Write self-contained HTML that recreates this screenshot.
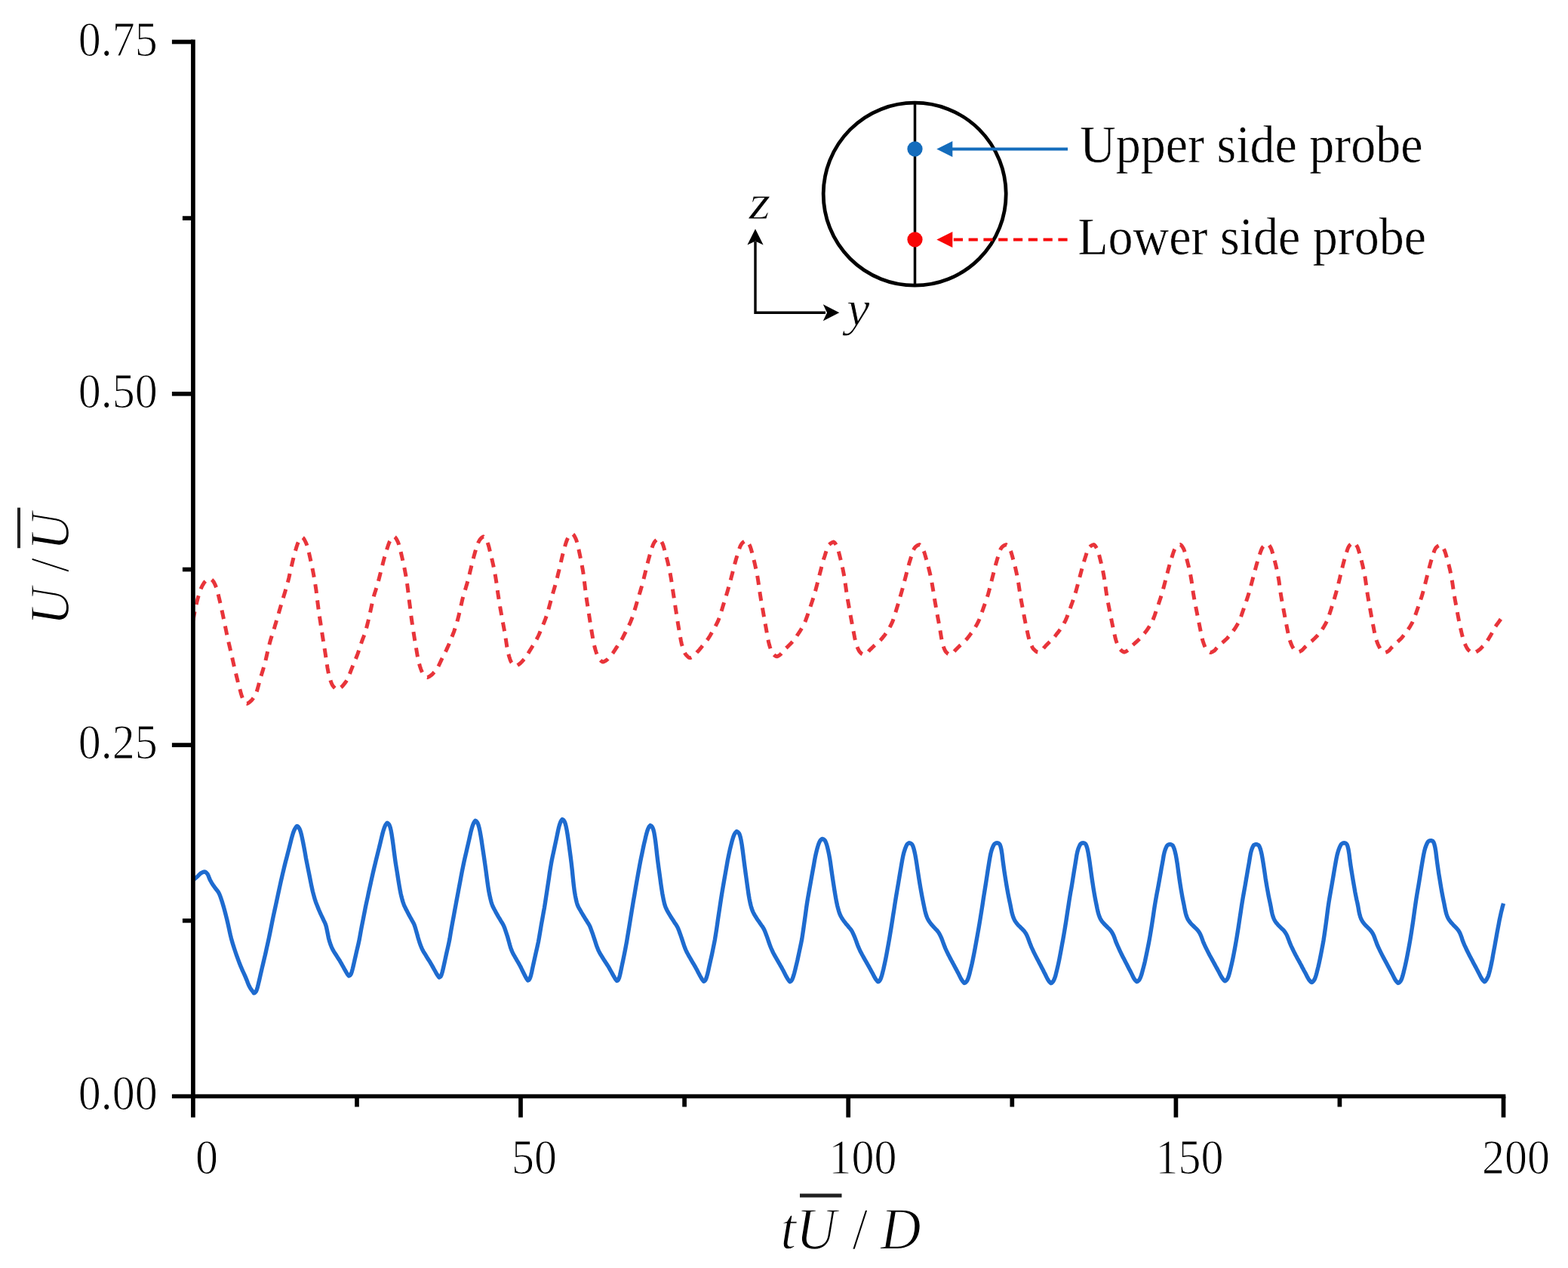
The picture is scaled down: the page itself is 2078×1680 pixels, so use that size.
<!DOCTYPE html>
<html lang="en">
<head>
<meta charset="utf-8">
<title>Velocity time histories at upper and lower side probes</title>
<style>
html,body{margin:0;padding:0;background:#fff;}
body{width:2078px;height:1680px;overflow:hidden;}
svg{display:block;}
</style>
</head>
<body>
<svg width="2078" height="1680" viewBox="0 0 2078 1680">
<rect width="2078" height="1680" fill="#ffffff"/>
<path d="M255.9 822.0L256.9 816.5L257.9 811.3L258.9 806.5L259.9 802.1L260.9 797.7L261.9 793.7L262.9 790.1L263.9 786.9L264.9 784.0L265.8 781.3L266.8 778.8L267.8 776.6L268.8 774.8L269.8 773.2L270.8 771.7L271.8 770.4L272.8 769.4L273.8 768.6L274.8 768.1L275.8 767.6L276.8 767.2L277.8 767.0L278.8 767.1L279.8 767.5L280.8 768.3L281.8 769.3L282.8 770.4L283.7 771.9L284.7 773.9L285.7 776.1L286.7 778.6L287.7 781.7L288.7 785.5L289.7 789.6L290.7 793.8L291.7 798.0L292.7 802.4L293.7 807.0L294.7 811.8L295.7 816.5L296.7 821.2L297.7 826.0L298.7 830.9L299.7 835.7L300.6 840.4L301.6 844.9L302.6 849.3L303.6 853.6L304.6 857.9L305.6 862.2L306.6 866.5L307.6 870.9L308.6 875.3L309.6 879.7L310.6 884.0L311.6 888.3L312.6 892.4L313.6 896.6L314.6 900.7L315.6 904.8L316.6 908.6L317.6 912.2L318.6 915.8L319.5 919.3L320.5 922.5L321.5 925.1L322.5 926.9L323.5 928.5L324.5 930.0L325.5 931.2L326.5 932.0L327.5 932.3L328.5 931.8L329.5 931.2L330.5 930.5L331.5 929.6L332.5 928.7L333.5 927.7L334.5 926.6L335.5 925.3L336.5 923.8L337.5 922.2L338.5 920.3L339.5 918.1L340.5 915.5L341.5 912.0L342.5 908.4L343.5 904.4L344.5 900.7L345.5 897.2L346.6 893.8L347.6 890.5L348.6 887.2L349.6 883.8L350.6 880.3L351.6 876.5L352.6 872.3L353.6 867.9L354.6 863.4L355.6 859.0L356.6 855.0L357.6 851.3L358.6 847.8L359.6 844.5L360.6 841.3L361.6 838.2L362.6 835.1L363.6 831.9L364.6 828.6L365.6 825.2L366.6 821.8L367.6 818.3L368.6 814.9L369.6 811.5L370.6 808.0L371.6 804.6L372.6 801.1L373.6 797.8L374.6 794.5L375.6 791.3L376.6 788.1L377.6 784.8L378.6 781.4L379.6 778.1L380.6 774.6L381.6 770.7L382.7 766.4L383.7 761.9L384.7 757.3L385.7 752.9L386.7 748.6L387.7 744.3L388.7 740.1L389.7 736.1L390.7 732.4L391.7 729.0L392.7 725.6L393.7 722.5L394.7 719.7L395.7 717.5L396.7 715.8L397.7 714.4L398.7 713.2L399.7 712.4L400.7 711.8L401.7 712.6L402.7 713.9L403.7 715.5L404.7 717.5L405.7 719.6L406.8 722.4L407.8 725.8L408.8 729.7L409.8 734.0L410.8 738.4L411.8 742.9L412.8 747.4L413.8 752.1L414.8 757.1L415.8 762.4L416.8 768.0L417.8 774.1L418.9 781.3L419.9 789.5L420.9 797.9L421.9 805.8L422.9 812.9L423.9 819.6L424.9 826.2L425.9 832.7L426.9 839.2L427.9 845.7L428.9 852.1L430.0 858.5L431.0 864.9L432.0 871.5L433.0 878.3L434.0 884.9L435.0 890.4L436.0 894.6L437.0 898.2L438.0 901.6L439.0 904.4L440.0 906.8L441.0 908.5L442.1 909.8L443.1 911.0L444.1 912.0L445.1 912.9L446.1 913.4L447.1 913.6L448.1 913.2L449.1 912.7L450.1 912.0L451.1 911.3L452.1 910.5L453.1 909.7L454.1 908.7L455.0 907.6L456.0 906.4L457.0 905.2L458.0 903.8L459.0 902.3L460.0 900.7L461.0 898.8L462.0 896.5L463.0 893.9L464.0 891.3L465.0 888.6L466.0 886.1L467.0 883.6L468.0 881.2L469.0 878.8L469.9 876.5L470.9 874.1L471.9 871.7L472.9 869.2L473.9 866.6L474.9 863.8L475.9 860.8L476.9 857.8L477.9 854.7L478.9 851.7L479.9 848.8L480.9 846.1L481.9 843.6L482.9 840.9L483.9 838.0L484.9 834.8L485.8 831.3L486.8 827.5L487.8 823.5L488.8 819.2L489.8 814.8L490.8 810.3L491.8 805.7L492.8 801.0L493.8 796.4L494.8 792.2L495.8 788.5L496.8 785.2L497.8 782.2L498.8 779.1L499.8 775.9L500.7 772.6L501.7 769.0L502.7 765.2L503.7 761.2L504.7 757.2L505.7 753.1L506.7 749.2L507.7 745.4L508.7 741.5L509.7 737.8L510.7 734.3L511.7 730.9L512.7 727.7L513.7 724.7L514.7 721.8L515.6 719.3L516.6 717.1L517.6 715.4L518.6 714.1L519.6 713.0L520.6 712.0L521.6 711.4L522.6 710.9L523.6 711.7L524.6 713.0L525.6 714.6L526.6 716.5L527.6 718.6L528.6 721.5L529.6 725.0L530.6 728.9L531.6 733.1L532.6 737.5L533.6 741.8L534.6 746.2L535.6 750.9L536.6 755.9L537.6 761.2L538.6 767.1L539.6 773.7L540.6 781.5L541.6 789.8L542.6 797.9L543.6 805.6L544.5 813.3L545.5 820.8L546.5 827.8L547.5 834.4L548.5 840.7L549.5 846.8L550.5 852.7L551.5 858.7L552.5 864.7L553.5 870.4L554.5 875.4L555.5 879.2L556.5 882.7L557.5 885.8L558.5 888.5L559.5 890.8L560.5 892.5L561.5 893.8L562.5 894.9L563.5 896.0L564.5 896.8L565.5 897.3L566.5 897.5L567.5 897.1L568.5 896.6L569.5 896.0L570.5 895.3L571.5 894.5L572.5 893.7L573.5 892.7L574.5 891.6L575.5 890.5L576.6 889.3L577.6 888.0L578.6 886.7L579.6 885.2L580.6 883.5L581.6 881.5L582.6 879.4L583.6 877.3L584.6 875.1L585.6 873.0L586.6 871.0L587.6 869.0L588.6 867.0L589.6 865.1L590.6 863.1L591.6 861.1L592.6 858.9L593.6 856.7L594.7 854.3L595.7 851.8L596.7 849.3L597.7 846.7L598.7 844.3L599.7 841.8L600.7 839.3L601.7 836.6L602.7 833.6L603.7 830.6L604.7 827.5L605.7 824.2L606.7 820.5L607.7 816.6L608.7 812.4L609.7 808.1L610.7 803.6L611.7 799.1L612.7 794.6L613.8 790.5L614.8 787.0L615.8 783.6L616.8 780.4L617.8 777.1L618.8 773.7L619.8 770.1L620.8 766.3L621.8 762.2L622.8 758.1L623.8 754.0L624.8 749.9L625.8 745.8L626.8 741.9L627.8 738.0L628.8 734.3L629.8 730.8L630.8 727.5L631.9 724.3L632.9 721.3L633.9 718.8L634.9 716.7L635.9 715.1L636.9 713.9L637.9 712.8L638.9 712.0L639.9 711.3L640.9 710.9L641.9 711.7L642.9 712.9L643.9 714.4L644.9 716.2L645.9 718.3L646.9 721.1L647.9 724.4L648.8 728.2L649.8 732.2L650.8 736.3L651.8 740.4L652.8 744.7L653.8 749.2L654.8 754.1L655.8 759.3L656.8 764.8L657.8 771.2L658.8 778.4L659.8 785.6L660.8 792.2L661.8 798.2L662.7 804.0L663.7 809.6L664.7 815.2L665.7 820.7L666.7 826.1L667.7 831.4L668.7 836.9L669.7 842.6L670.7 849.3L671.7 856.1L672.7 862.1L673.7 866.2L674.7 869.7L675.7 872.8L676.6 875.3L677.6 877.3L678.6 878.6L679.6 879.7L680.6 880.8L681.6 881.6L682.6 882.1L683.6 882.3L684.6 881.9L685.6 881.5L686.6 880.9L687.6 880.3L688.6 879.5L689.6 878.7L690.6 877.7L691.6 876.7L692.6 875.6L693.6 874.5L694.6 873.4L695.6 872.3L696.6 871.0L697.6 869.6L698.6 868.1L699.6 866.4L700.6 864.6L701.6 862.9L702.7 861.2L703.7 859.5L704.7 857.9L705.7 856.3L706.7 854.7L707.7 853.1L708.7 851.4L709.7 849.7L710.7 847.9L711.7 846.0L712.7 844.0L713.7 842.0L714.7 839.8L715.7 837.3L716.7 834.8L717.7 832.4L718.7 830.1L719.7 827.8L720.7 825.5L721.7 823.0L722.7 820.4L723.7 817.6L724.7 814.7L725.7 811.5L726.7 808.0L727.7 804.4L728.7 800.7L729.7 797.0L730.7 793.3L731.7 789.7L732.7 786.1L733.7 782.6L734.7 779.2L735.7 775.7L736.7 772.1L737.7 768.4L738.7 764.4L739.7 760.1L740.8 755.8L741.8 751.4L742.8 747.1L743.8 742.8L744.8 738.5L745.8 734.4L746.8 730.6L747.8 726.9L748.8 723.4L749.8 720.1L750.8 717.0L751.8 714.5L752.8 712.5L753.8 711.0L754.8 709.9L755.8 709.0L756.8 708.2L757.8 707.7L758.8 707.3L759.8 708.1L760.8 709.5L761.8 711.2L762.8 713.3L763.9 715.9L764.9 719.4L765.9 723.5L766.9 727.9L767.9 732.6L768.9 737.2L769.9 742.1L770.9 747.4L772.0 753.2L773.0 759.4L774.0 766.7L775.0 775.1L776.0 783.5L777.0 790.9L778.0 797.8L779.0 804.4L780.1 811.0L781.1 817.6L782.1 824.2L783.1 830.6L784.1 836.5L785.1 842.3L786.1 848.0L787.1 853.3L788.2 857.8L789.2 861.3L790.2 864.5L791.2 867.3L792.2 869.8L793.2 871.7L794.2 873.1L795.2 874.3L796.3 875.4L797.3 876.2L798.3 876.8L799.3 877.0L800.3 876.6L801.3 876.2L802.3 875.6L803.3 874.9L804.3 874.2L805.3 873.2L806.3 872.1L807.3 871.0L808.3 869.9L809.3 868.8L810.3 867.7L811.3 866.5L812.3 865.2L813.3 863.7L814.3 862.2L815.3 860.6L816.3 859.0L817.3 857.5L818.3 856.1L819.3 854.6L820.3 853.1L821.3 851.6L822.3 850.1L823.3 848.5L824.3 846.7L825.3 844.8L826.3 842.9L827.3 840.9L828.3 838.9L829.3 836.9L830.3 835.0L831.3 833.0L832.3 831.1L833.3 829.0L834.3 826.9L835.3 824.7L836.3 822.3L837.3 819.8L838.3 817.1L839.3 814.0L840.3 810.9L841.3 807.5L842.3 804.2L843.3 800.8L844.3 797.4L845.3 794.1L846.3 790.8L847.3 787.4L848.3 784.2L849.3 780.8L850.3 777.4L851.3 773.7L852.3 769.9L853.3 766.0L854.3 761.9L855.3 757.9L856.3 753.9L857.3 749.9L858.3 745.9L859.3 742.0L860.3 738.3L861.3 734.8L862.3 731.5L863.3 728.1L864.3 725.0L865.3 722.2L866.3 719.9L867.3 718.2L868.3 716.9L869.3 715.9L870.3 715.1L871.3 714.5L872.3 714.0L873.3 713.6L874.3 714.3L875.3 715.5L876.3 717.0L877.3 718.8L878.3 720.9L879.3 723.7L880.3 727.1L881.3 730.8L882.3 734.7L883.3 738.6L884.4 742.6L885.4 746.8L886.4 751.3L887.4 756.1L888.4 761.2L889.4 766.9L890.4 773.3L891.4 780.1L892.4 786.9L893.4 793.4L894.4 799.9L895.4 806.4L896.4 812.8L897.4 819.3L898.4 825.6L899.4 831.6L900.4 837.4L901.4 843.3L902.4 848.8L903.4 853.4L904.5 856.9L905.5 860.0L906.5 862.7L907.5 865.0L908.5 866.8L909.5 868.1L910.5 869.1L911.5 870.1L912.5 870.9L913.5 871.4L914.5 871.6L915.5 871.3L916.5 870.8L917.5 870.2L918.5 869.6L919.5 868.8L920.5 867.8L921.5 866.6L922.6 865.5L923.6 864.3L924.6 863.3L925.6 862.2L926.6 861.1L927.6 859.9L928.6 858.7L929.6 857.4L930.6 856.1L931.6 854.9L932.6 853.7L933.6 852.5L934.6 851.3L935.6 850.0L936.6 848.7L937.7 847.3L938.7 845.9L939.7 844.3L940.7 842.7L941.7 841.0L942.7 839.3L943.7 837.6L944.7 836.0L945.7 834.3L946.7 832.5L947.7 830.7L948.7 828.7L949.7 826.7L950.7 824.6L951.8 822.3L952.8 819.7L953.8 816.9L954.8 813.8L955.8 810.6L956.8 807.4L957.8 804.1L958.8 800.8L959.8 797.6L960.8 794.3L961.8 790.9L962.8 787.7L963.8 784.4L964.8 781.0L965.8 777.4L966.9 773.7L967.9 769.9L968.9 766.0L969.9 762.1L970.9 758.3L971.9 754.4L972.9 750.5L973.9 746.7L974.9 743.0L975.9 739.4L976.9 736.2L977.9 732.9L978.9 729.7L979.9 726.7L980.9 724.0L982.0 721.9L983.0 720.4L984.0 719.2L985.0 718.3L986.0 717.6L987.0 717.0L988.0 716.6L989.0 716.2L990.0 717.0L991.0 718.2L992.0 719.8L993.0 721.5L994.1 723.8L995.1 726.7L996.1 730.2L997.1 734.1L998.1 738.1L999.1 742.0L1000.1 746.2L1001.1 750.6L1002.2 755.3L1003.2 760.4L1004.2 766.0L1005.2 772.6L1006.2 779.6L1007.2 786.5L1008.2 792.8L1009.2 798.7L1010.3 804.6L1011.3 810.3L1012.3 816.1L1013.3 821.7L1014.3 827.3L1015.3 832.8L1016.3 838.5L1017.4 844.4L1018.4 849.8L1019.4 854.0L1020.4 857.3L1021.4 860.2L1022.4 862.8L1023.4 864.8L1024.4 866.2L1025.5 867.3L1026.5 868.3L1027.5 869.1L1028.5 869.6L1029.5 869.8L1030.5 869.5L1031.5 869.0L1032.5 868.4L1033.5 867.7L1034.5 866.9L1035.5 865.7L1036.5 864.4L1037.5 863.2L1038.5 862.0L1039.5 861.0L1040.5 860.0L1041.5 858.9L1042.6 857.9L1043.6 856.9L1044.6 855.9L1045.6 854.9L1046.6 854.0L1047.6 853.0L1048.6 852.0L1049.6 850.9L1050.6 849.8L1051.6 848.7L1052.6 847.4L1053.6 846.1L1054.6 844.7L1055.6 843.2L1056.6 841.6L1057.6 840.1L1058.6 838.6L1059.6 837.1L1060.6 835.6L1061.6 833.9L1062.6 832.2L1063.6 830.5L1064.6 828.6L1065.6 826.6L1066.6 824.4L1067.7 821.9L1068.7 819.2L1069.7 816.4L1070.7 813.5L1071.7 810.5L1072.7 807.6L1073.7 804.7L1074.7 801.7L1075.7 798.8L1076.7 795.7L1077.7 792.6L1078.7 789.4L1079.7 786.0L1080.7 782.5L1081.7 778.7L1082.7 774.9L1083.7 770.9L1084.7 767.0L1085.7 763.1L1086.7 759.2L1087.7 755.3L1088.7 751.4L1089.7 747.6L1090.7 743.9L1091.7 740.4L1092.8 737.2L1093.8 733.9L1094.8 730.7L1095.8 727.7L1096.8 725.0L1097.8 723.1L1098.8 721.7L1099.8 720.7L1100.8 719.9L1101.8 719.3L1102.8 718.7L1103.8 718.3L1104.8 718.0L1105.8 718.7L1106.8 719.9L1107.8 721.4L1108.8 723.2L1109.8 725.5L1110.8 728.5L1111.7 732.1L1112.7 735.9L1113.7 740.0L1114.7 744.0L1115.7 748.2L1116.7 752.8L1117.7 757.7L1118.7 763.1L1119.7 769.2L1120.7 776.4L1121.7 783.7L1122.7 790.2L1123.7 796.0L1124.7 801.6L1125.6 807.0L1126.6 812.5L1127.6 817.9L1128.6 823.3L1129.6 828.5L1130.6 833.7L1131.6 839.1L1132.6 844.4L1133.6 849.1L1134.6 852.7L1135.6 855.7L1136.6 858.4L1137.6 860.7L1138.5 862.5L1139.5 863.8L1140.5 864.9L1141.5 865.8L1142.5 866.6L1143.5 867.1L1144.5 867.3L1145.5 867.0L1146.5 866.6L1147.5 866.0L1148.5 865.4L1149.5 864.6L1150.5 863.7L1151.5 862.5L1152.5 861.4L1153.5 860.3L1154.5 859.4L1155.5 858.4L1156.5 857.5L1157.5 856.6L1158.5 855.6L1159.5 854.7L1160.5 853.9L1161.5 853.0L1162.5 852.1L1163.5 851.2L1164.5 850.3L1165.5 849.4L1166.5 848.4L1167.5 847.4L1168.5 846.3L1169.5 845.1L1170.5 843.9L1171.5 842.7L1172.5 841.4L1173.5 840.0L1174.5 838.6L1175.5 837.2L1176.5 835.6L1177.5 834.0L1178.5 832.3L1179.5 830.4L1180.5 828.5L1181.5 826.4L1182.6 824.1L1183.6 821.5L1184.6 818.5L1185.6 815.3L1186.6 812.1L1187.6 808.8L1188.6 805.5L1189.6 802.3L1190.6 799.0L1191.6 795.6L1192.6 792.1L1193.6 788.6L1194.6 785.1L1195.6 781.6L1196.6 777.9L1197.6 774.0L1198.6 770.1L1199.6 766.3L1200.6 762.5L1201.6 758.7L1202.6 754.8L1203.6 751.0L1204.6 747.4L1205.6 743.9L1206.6 740.7L1207.6 737.5L1208.6 734.3L1209.6 731.3L1210.6 728.6L1211.6 726.7L1212.6 725.3L1213.6 724.3L1214.6 723.5L1215.6 722.8L1216.6 722.3L1217.6 721.9L1218.6 721.6L1219.6 722.3L1220.6 723.4L1221.6 724.8L1222.6 726.5L1223.6 728.5L1224.6 731.0L1225.6 734.1L1226.6 737.5L1227.6 741.1L1228.6 744.6L1229.6 748.2L1230.6 752.1L1231.6 756.1L1232.6 760.4L1233.6 765.0L1234.6 770.0L1235.6 775.6L1236.6 781.6L1237.6 787.7L1238.5 793.5L1239.5 799.3L1240.5 805.1L1241.5 810.8L1242.5 816.3L1243.5 821.6L1244.5 827.0L1245.5 832.5L1246.5 838.5L1247.5 844.8L1248.5 850.1L1249.5 853.9L1250.5 857.1L1251.5 859.9L1252.5 862.0L1253.5 863.5L1254.5 864.6L1255.5 865.6L1256.5 866.4L1257.5 866.9L1258.5 867.1L1259.5 866.8L1260.5 866.3L1261.5 865.8L1262.5 865.1L1263.5 864.3L1264.5 863.3L1265.5 862.1L1266.5 860.9L1267.5 859.9L1268.5 858.9L1269.5 857.9L1270.5 857.0L1271.5 856.0L1272.5 855.0L1273.5 854.1L1274.5 853.2L1275.5 852.3L1276.5 851.4L1277.5 850.4L1278.5 849.5L1279.5 848.5L1280.5 847.4L1281.5 846.3L1282.5 845.1L1283.5 843.8L1284.5 842.5L1285.5 841.1L1286.5 839.7L1287.5 838.4L1288.5 837.1L1289.5 835.7L1290.5 834.2L1291.5 832.6L1292.5 831.0L1293.5 829.3L1294.5 827.5L1295.5 825.6L1296.6 823.5L1297.6 821.1L1298.6 818.5L1299.6 815.9L1300.6 813.1L1301.6 810.3L1302.6 807.5L1303.6 804.7L1304.6 801.9L1305.6 799.1L1306.6 796.2L1307.6 793.3L1308.6 790.2L1309.6 786.9L1310.6 783.3L1311.6 779.5L1312.6 775.5L1313.6 771.5L1314.6 767.5L1315.6 763.5L1316.6 759.6L1317.6 755.6L1318.6 751.7L1319.6 747.9L1320.6 744.3L1321.6 740.9L1322.6 737.7L1323.6 734.3L1324.6 731.3L1325.6 728.6L1326.6 726.7L1327.6 725.2L1328.6 724.2L1329.6 723.4L1330.6 722.8L1331.6 722.3L1332.6 721.9L1333.6 721.6L1334.6 722.2L1335.6 723.3L1336.6 724.7L1337.6 726.3L1338.6 728.2L1339.7 730.8L1340.7 734.0L1341.7 737.5L1342.7 741.2L1343.7 744.8L1344.7 748.6L1345.7 752.7L1346.7 757.1L1347.7 761.8L1348.7 767.0L1349.8 773.1L1350.8 779.9L1351.8 786.5L1352.8 792.4L1353.8 798.0L1354.8 803.3L1355.8 808.6L1356.8 813.9L1357.8 819.2L1358.8 824.4L1359.8 829.3L1360.9 834.1L1361.9 838.9L1362.9 843.4L1363.9 847.3L1364.9 850.3L1365.9 852.8L1366.9 855.2L1367.9 857.2L1368.9 858.9L1369.9 860.2L1371.0 861.2L1372.0 862.1L1373.0 863.0L1374.0 863.6L1375.0 864.0L1376.0 864.2L1377.0 863.9L1378.0 863.4L1379.0 862.8L1380.0 862.2L1381.0 861.3L1382.0 860.1L1383.0 858.9L1384.0 857.7L1385.0 856.6L1385.9 855.6L1386.9 854.6L1387.9 853.5L1388.9 852.5L1389.9 851.6L1390.9 850.6L1391.9 849.6L1392.9 848.7L1393.9 847.7L1394.9 846.7L1395.9 845.6L1396.9 844.5L1397.9 843.3L1398.9 842.0L1399.9 840.6L1400.9 839.3L1401.9 838.1L1402.9 836.9L1403.8 835.6L1404.8 834.2L1405.8 832.8L1406.8 831.3L1407.8 829.7L1408.8 828.1L1409.8 826.4L1410.8 824.5L1411.8 822.6L1412.8 820.4L1413.8 818.0L1414.8 815.4L1415.8 812.7L1416.8 810.0L1417.8 807.2L1418.8 804.5L1419.8 801.7L1420.8 799.0L1421.8 796.2L1422.7 793.3L1423.7 790.4L1424.7 787.2L1425.7 783.9L1426.7 780.4L1427.7 776.7L1428.7 773.0L1429.7 769.2L1430.7 765.4L1431.7 761.7L1432.7 757.9L1433.7 754.1L1434.7 750.4L1435.7 746.8L1436.7 743.4L1437.7 740.3L1438.7 737.2L1439.7 734.0L1440.6 731.1L1441.6 728.5L1442.6 726.6L1443.6 725.2L1444.6 724.2L1445.6 723.4L1446.6 722.8L1447.6 722.3L1448.6 721.9L1449.6 721.6L1450.6 722.3L1451.6 723.4L1452.6 725.0L1453.6 726.7L1454.6 729.0L1455.7 732.1L1456.7 735.7L1457.7 739.6L1458.7 743.6L1459.7 747.7L1460.7 752.1L1461.7 756.8L1462.7 762.0L1463.7 767.8L1464.8 775.1L1465.8 782.8L1466.8 789.5L1467.8 795.2L1468.8 800.4L1469.8 805.4L1470.8 810.5L1471.8 815.6L1472.8 820.6L1473.8 825.5L1474.8 830.3L1475.9 835.1L1476.9 840.0L1477.9 844.5L1478.9 848.2L1479.9 851.1L1480.9 853.7L1481.9 856.1L1482.9 858.1L1483.9 859.6L1485.0 860.8L1486.0 861.8L1487.0 862.6L1488.0 863.3L1489.0 863.8L1490.0 864.0L1491.0 863.7L1492.0 863.3L1493.0 862.7L1494.0 862.0L1495.0 861.3L1496.0 860.2L1497.0 859.0L1498.0 857.9L1499.0 856.9L1500.0 855.9L1501.0 854.9L1502.0 854.0L1503.1 853.0L1504.1 852.1L1505.1 851.2L1506.1 850.3L1507.1 849.4L1508.1 848.5L1509.1 847.6L1510.1 846.6L1511.1 845.6L1512.1 844.6L1513.1 843.5L1514.1 842.3L1515.1 841.1L1516.1 839.8L1517.1 838.6L1518.1 837.3L1519.1 836.0L1520.1 834.6L1521.1 833.2L1522.1 831.7L1523.1 830.1L1524.1 828.4L1525.1 826.7L1526.1 824.8L1527.2 822.8L1528.2 820.5L1529.2 818.0L1530.2 815.3L1531.2 812.4L1532.2 809.5L1533.2 806.6L1534.2 803.7L1535.2 800.8L1536.2 797.8L1537.2 794.8L1538.2 791.7L1539.2 788.5L1540.2 785.2L1541.2 781.7L1542.2 778.0L1543.2 774.2L1544.2 770.3L1545.2 766.4L1546.2 762.6L1547.2 758.8L1548.2 754.9L1549.2 751.1L1550.2 747.4L1551.2 743.9L1552.3 740.6L1553.3 737.5L1554.3 734.2L1555.3 731.3L1556.3 728.6L1557.3 726.6L1558.3 725.2L1559.3 724.2L1560.3 723.4L1561.3 722.8L1562.3 722.3L1563.3 721.9L1564.3 721.6L1565.3 722.3L1566.3 723.4L1567.3 724.9L1568.3 726.6L1569.3 728.8L1570.3 731.8L1571.3 735.2L1572.3 739.0L1573.3 742.9L1574.3 746.8L1575.4 750.9L1576.4 755.4L1577.4 760.2L1578.4 765.5L1579.4 771.7L1580.4 778.9L1581.4 785.9L1582.4 791.9L1583.4 797.3L1584.4 802.5L1585.4 807.5L1586.4 812.6L1587.4 817.7L1588.4 822.7L1589.4 827.6L1590.4 832.5L1591.4 837.6L1592.4 842.7L1593.4 847.1L1594.5 850.5L1595.5 853.4L1596.5 856.0L1597.5 858.2L1598.5 859.9L1599.5 861.2L1600.5 862.2L1601.5 863.1L1602.5 863.8L1603.5 864.3L1604.5 864.5L1605.5 864.2L1606.5 863.8L1607.5 863.2L1608.5 862.6L1609.5 861.9L1610.5 860.9L1611.5 859.7L1612.4 858.6L1613.4 857.5L1614.4 856.6L1615.4 855.6L1616.4 854.7L1617.4 853.8L1618.4 852.9L1619.4 851.9L1620.4 851.1L1621.4 850.2L1622.4 849.3L1623.4 848.4L1624.4 847.5L1625.4 846.5L1626.4 845.6L1627.3 844.5L1628.3 843.4L1629.3 842.2L1630.3 841.0L1631.3 839.7L1632.3 838.5L1633.3 837.3L1634.3 835.9L1635.3 834.6L1636.3 833.1L1637.3 831.6L1638.3 830.0L1639.3 828.4L1640.3 826.6L1641.3 824.8L1642.2 822.8L1643.2 820.5L1644.2 818.0L1645.2 815.3L1646.2 812.4L1647.2 809.5L1648.2 806.6L1649.2 803.7L1650.2 800.8L1651.2 797.9L1652.2 794.9L1653.2 791.9L1654.2 788.7L1655.2 785.4L1656.2 782.1L1657.2 778.5L1658.1 774.8L1659.1 771.1L1660.1 767.3L1661.1 763.5L1662.1 759.8L1663.1 756.1L1664.1 752.3L1665.1 748.7L1666.1 745.2L1667.1 741.9L1668.1 738.8L1669.1 735.6L1670.1 732.5L1671.1 729.7L1672.1 727.2L1673.0 725.5L1674.0 724.2L1675.0 723.2L1676.0 722.5L1677.0 721.9L1678.0 721.4L1679.0 721.0L1680.0 720.7L1681.0 721.3L1682.0 722.5L1683.0 723.9L1684.0 725.6L1685.0 727.7L1685.9 730.5L1686.9 733.9L1687.9 737.6L1688.9 741.4L1689.9 745.3L1690.9 749.3L1691.9 753.7L1692.9 758.4L1693.9 763.6L1694.9 769.4L1695.8 776.4L1696.8 783.6L1697.8 789.9L1698.8 795.6L1699.8 801.1L1700.8 806.4L1701.8 811.8L1702.8 817.1L1703.8 822.4L1704.8 827.4L1705.7 832.3L1706.7 837.2L1707.7 841.9L1708.7 846.1L1709.7 849.4L1710.7 852.0L1711.7 854.5L1712.7 856.6L1713.7 858.4L1714.7 859.9L1715.6 860.9L1716.6 861.8L1717.6 862.7L1718.6 863.4L1719.6 863.8L1720.6 864.0L1721.6 863.7L1722.6 863.3L1723.6 862.7L1724.6 862.1L1725.6 861.4L1726.6 860.5L1727.6 859.3L1728.6 858.3L1729.6 857.2L1730.6 856.3L1731.6 855.4L1732.6 854.5L1733.6 853.6L1734.6 852.6L1735.6 851.8L1736.6 850.9L1737.6 850.0L1738.6 849.2L1739.5 848.3L1740.5 847.4L1741.5 846.5L1742.5 845.6L1743.5 844.6L1744.5 843.6L1745.5 842.5L1746.5 841.4L1747.5 840.2L1748.5 839.0L1749.5 837.7L1750.5 836.4L1751.5 835.0L1752.5 833.5L1753.5 831.9L1754.5 830.3L1755.5 828.6L1756.5 826.8L1757.5 824.9L1758.5 822.8L1759.5 820.5L1760.5 817.8L1761.5 814.9L1762.5 811.8L1763.5 808.7L1764.5 805.5L1765.5 802.3L1766.5 799.2L1767.5 796.0L1768.5 792.7L1769.5 789.3L1770.5 785.8L1771.5 782.2L1772.5 778.5L1773.5 774.5L1774.5 770.4L1775.5 766.3L1776.4 762.2L1777.4 758.2L1778.4 754.1L1779.4 750.0L1780.4 746.1L1781.4 742.4L1782.4 738.9L1783.4 735.6L1784.4 732.2L1785.4 729.0L1786.4 726.2L1787.4 724.1L1788.4 722.7L1789.4 721.6L1790.4 720.8L1791.4 720.1L1792.4 719.6L1793.4 719.2L1794.4 718.9L1795.4 719.5L1796.4 720.6L1797.4 722.1L1798.4 723.7L1799.4 725.7L1800.3 728.4L1801.3 731.7L1802.3 735.3L1803.3 739.1L1804.3 742.9L1805.3 746.9L1806.3 751.1L1807.3 755.7L1808.3 760.6L1809.3 766.1L1810.2 772.6L1811.2 779.8L1812.2 786.5L1813.2 792.5L1814.2 798.3L1815.2 803.8L1816.2 809.4L1817.2 815.0L1818.2 820.5L1819.2 825.8L1820.2 830.8L1821.1 835.6L1822.1 840.4L1823.1 844.7L1824.1 848.2L1825.1 851.0L1826.1 853.5L1827.1 855.7L1828.1 857.6L1829.1 859.3L1830.1 860.5L1831.0 861.5L1832.0 862.4L1833.0 863.2L1834.0 863.9L1835.0 864.3L1836.0 864.5L1837.0 864.2L1838.0 863.7L1839.0 863.2L1840.0 862.5L1841.0 861.7L1842.0 860.6L1843.0 859.4L1844.0 858.2L1845.0 857.2L1846.0 856.2L1847.0 855.2L1848.0 854.3L1849.0 853.3L1850.0 852.3L1851.0 851.4L1852.0 850.5L1853.0 849.6L1854.0 848.6L1855.0 847.7L1856.0 846.7L1857.0 845.7L1858.0 844.6L1859.0 843.4L1860.0 842.1L1861.0 840.8L1862.0 839.5L1863.0 838.3L1864.0 837.0L1865.0 835.6L1866.0 834.2L1867.0 832.7L1868.0 831.2L1869.0 829.5L1870.0 827.8L1871.0 826.0L1872.0 824.1L1873.0 821.9L1874.0 819.5L1875.0 816.9L1876.0 814.1L1877.0 811.2L1878.0 808.4L1879.0 805.5L1880.0 802.6L1881.0 799.7L1882.0 796.8L1883.0 793.8L1884.0 790.7L1885.0 787.4L1886.0 783.9L1887.0 780.2L1888.0 776.3L1889.0 772.4L1890.0 768.4L1891.0 764.4L1892.0 760.5L1893.0 756.6L1894.0 752.6L1895.0 748.8L1896.0 745.1L1897.0 741.8L1898.0 738.5L1899.0 735.2L1900.0 732.1L1901.0 729.3L1902.0 727.2L1903.0 725.8L1904.0 724.7L1905.0 723.9L1906.0 723.2L1907.0 722.7L1908.0 722.3L1909.0 722.0L1910.0 722.6L1911.0 723.6L1912.0 724.9L1913.0 726.5L1913.9 728.3L1914.9 730.8L1915.9 733.8L1916.9 737.2L1917.9 740.8L1918.9 744.5L1919.9 748.2L1920.9 752.2L1921.9 756.4L1922.8 761.1L1923.8 766.1L1924.8 772.1L1925.8 779.0L1926.8 785.9L1927.8 791.9L1928.8 797.4L1929.8 802.7L1930.8 807.9L1931.7 813.1L1932.7 818.4L1933.7 823.6L1934.7 828.4L1935.7 832.9L1936.7 837.3L1937.7 841.5L1938.7 845.3L1939.6 848.7L1940.6 851.3L1941.6 853.6L1942.6 855.8L1943.6 857.7L1944.6 859.4L1945.6 860.8L1946.6 861.8L1947.6 862.7L1948.5 863.5L1949.5 864.3L1950.5 864.8L1951.5 865.2L1952.5 865.4L1953.5 865.0L1954.5 864.6L1955.6 864.1L1956.6 863.5L1957.6 862.9L1958.6 862.3L1959.6 861.5L1960.7 860.7L1961.7 859.8L1962.7 858.9L1963.7 857.8L1964.7 856.8L1965.8 855.7L1966.8 854.5L1967.8 853.3L1968.8 852.0L1969.8 850.6L1970.9 849.2L1971.9 847.7L1972.9 846.1L1973.9 844.4L1975.0 842.7L1976.0 840.9L1977.0 839.1L1978.0 837.3L1979.0 835.3L1980.1 833.4L1981.1 831.5L1982.1 829.9L1983.1 828.3L1984.1 826.9L1985.2 825.5L1986.2 824.1L1987.2 822.7L1988.2 821.3L1989.2 819.8L1990.3 818.4L1991.3 817.0L1992.3 815.5" fill="none" stroke="#e8343a" stroke-width="5" stroke-dasharray="12 9.5" stroke-linejoin="round"/>
<path d="M255.3 1166.5L256.3 1165.7L257.3 1164.9L258.3 1164.1L259.3 1163.3L260.3 1162.4L261.3 1161.6L262.3 1160.7L263.3 1159.7L264.3 1158.7L265.3 1157.7L266.3 1156.9L267.3 1156.3L268.3 1155.8L269.3 1155.4L270.3 1155.1L271.3 1155.0L272.3 1155.3L273.3 1156.1L274.3 1157.2L275.3 1158.5L276.3 1160.7L277.3 1163.4L278.3 1165.7L279.3 1167.5L280.3 1169.3L281.3 1171.0L282.3 1172.5L283.3 1173.9L284.3 1175.3L285.3 1176.6L286.3 1178.0L287.3 1179.2L288.3 1180.5L289.3 1181.9L290.3 1183.7L291.3 1186.0L292.3 1188.6L293.3 1191.6L294.3 1194.6L295.3 1198.0L296.4 1201.6L297.4 1205.2L298.4 1209.0L299.4 1212.9L300.4 1216.9L301.4 1221.0L302.4 1225.3L303.4 1230.0L304.4 1234.7L305.4 1239.2L306.4 1243.2L307.4 1246.8L308.4 1250.2L309.4 1253.4L310.4 1256.5L311.4 1259.5L312.4 1262.5L313.4 1265.4L314.4 1268.2L315.4 1270.9L316.4 1273.6L317.4 1276.2L318.4 1278.7L319.4 1281.2L320.4 1283.5L321.4 1285.8L322.4 1288.0L323.4 1290.2L324.4 1292.4L325.4 1294.7L326.4 1297.1L327.4 1299.6L328.4 1302.2L329.4 1304.6L330.4 1306.8L331.4 1308.6L332.4 1310.2L333.4 1311.6L334.4 1313.0L335.4 1314.1L336.4 1315.8L337.4 1315.5L338.4 1314.8L339.4 1313.4L340.4 1310.9L341.4 1307.7L342.4 1303.7L343.4 1299.5L344.4 1295.1L345.4 1290.7L346.4 1286.3L347.4 1282.0L348.4 1277.8L349.4 1273.6L350.4 1269.4L351.5 1264.9L352.5 1260.4L353.5 1255.7L354.5 1251.3L355.5 1246.9L356.5 1242.3L357.5 1237.4L358.5 1232.5L359.5 1227.5L360.5 1222.5L361.5 1217.5L362.5 1212.7L363.5 1208.1L364.5 1203.6L365.5 1199.0L366.5 1194.4L367.5 1189.7L368.5 1185.0L369.5 1180.4L370.5 1175.8L371.5 1171.2L372.5 1166.7L373.5 1162.3L374.5 1158.0L375.5 1153.8L376.5 1149.6L377.5 1145.5L378.5 1141.5L379.6 1137.5L380.6 1133.6L381.6 1129.7L382.6 1125.8L383.6 1121.8L384.6 1117.8L385.6 1113.8L386.6 1109.9L387.6 1106.5L388.6 1103.3L389.6 1100.6L390.6 1098.5L391.6 1096.8L392.6 1095.5L393.6 1094.5L394.6 1095.0L395.6 1096.0L396.6 1097.5L397.6 1099.6L398.6 1102.8L399.6 1106.5L400.6 1111.0L401.6 1115.9L402.6 1121.0L403.6 1126.3L404.6 1131.9L405.5 1137.2L406.5 1142.3L407.5 1147.3L408.5 1152.2L409.5 1157.1L410.5 1162.1L411.5 1167.2L412.5 1172.2L413.5 1176.9L414.5 1181.3L415.5 1185.2L416.5 1188.8L417.5 1192.2L418.5 1195.2L419.5 1197.8L420.5 1200.2L421.5 1202.9L422.5 1205.3L423.5 1207.5L424.5 1209.8L425.5 1212.0L426.5 1214.1L427.5 1216.2L428.4 1218.2L429.4 1220.3L430.4 1222.2L431.4 1224.6L432.4 1227.9L433.4 1232.6L434.4 1237.5L435.4 1242.6L436.4 1246.4L437.4 1249.5L438.4 1252.3L439.4 1254.8L440.4 1257.0L441.4 1258.9L442.4 1260.6L443.4 1262.2L444.4 1263.7L445.4 1265.3L446.4 1266.9L447.4 1268.5L448.4 1270.0L449.4 1271.6L450.4 1273.1L451.3 1274.7L452.3 1276.4L453.3 1278.2L454.3 1280.0L455.3 1281.8L456.3 1283.6L457.3 1285.3L458.3 1287.2L459.3 1288.9L460.3 1290.5L461.3 1291.8L462.3 1293.0L463.3 1292.6L464.3 1291.8L465.3 1290.2L466.3 1287.3L467.3 1283.6L468.3 1279.5L469.3 1275.1L470.3 1270.7L471.3 1266.3L472.3 1261.9L473.3 1257.7L474.3 1253.5L475.3 1249.1L476.3 1244.4L477.3 1238.7L478.3 1233.1L479.3 1227.8L480.3 1222.7L481.3 1217.7L482.3 1212.6L483.3 1207.4L484.3 1202.3L485.3 1197.5L486.3 1193.0L487.3 1188.5L488.2 1184.0L489.2 1179.4L490.2 1174.9L491.2 1170.4L492.2 1165.8L493.2 1161.3L494.2 1156.9L495.2 1152.6L496.2 1148.4L497.2 1144.3L498.2 1140.2L499.2 1136.2L500.2 1132.2L501.2 1128.2L502.2 1124.1L503.2 1120.0L504.2 1115.9L505.2 1111.7L506.2 1107.5L507.2 1103.5L508.2 1100.1L509.2 1097.0L510.2 1094.5L511.2 1092.6L512.2 1091.2L513.2 1090.2L514.2 1090.8L515.2 1091.8L516.2 1093.6L517.2 1096.4L518.2 1100.6L519.2 1106.3L520.2 1112.9L521.2 1120.2L522.2 1128.1L523.2 1135.7L524.2 1142.8L525.2 1149.1L526.2 1155.1L527.2 1161.5L528.2 1167.8L529.2 1173.9L530.2 1179.4L531.1 1184.1L532.1 1188.3L533.1 1192.1L534.1 1195.4L535.1 1198.2L536.1 1200.6L537.1 1202.7L538.1 1204.7L539.1 1206.6L540.1 1208.6L541.1 1210.5L542.1 1212.4L543.1 1214.2L544.1 1216.0L545.1 1217.8L546.1 1219.6L547.1 1221.3L548.1 1223.2L549.1 1225.4L550.1 1228.3L551.1 1231.7L552.1 1235.2L553.1 1238.8L554.1 1242.5L555.1 1245.8L556.1 1248.9L557.1 1251.8L558.1 1254.4L559.1 1256.7L560.1 1258.8L561.1 1260.6L562.1 1262.3L563.1 1263.8L564.1 1265.4L565.0 1267.0L566.0 1268.6L567.0 1270.2L568.0 1271.8L569.0 1273.3L570.0 1274.9L571.0 1276.6L572.0 1278.3L573.0 1280.1L574.0 1281.9L575.0 1283.7L576.0 1285.5L577.0 1287.3L578.0 1289.1L579.0 1290.8L580.0 1292.4L581.0 1293.8L582.0 1295.0L583.0 1294.6L584.0 1293.7L585.0 1291.7L586.0 1288.5L587.0 1284.5L588.0 1280.1L589.0 1275.6L590.0 1271.0L591.0 1266.4L592.0 1261.9L593.0 1257.5L594.0 1253.1L595.0 1248.6L596.0 1243.6L597.0 1237.3L598.0 1231.5L599.0 1226.0L600.0 1220.6L601.0 1215.2L602.0 1209.7L603.0 1204.3L604.0 1198.9L605.0 1193.4L606.0 1188.2L607.0 1182.9L608.0 1177.5L609.0 1172.2L610.0 1166.9L611.0 1161.6L612.0 1156.3L613.0 1151.3L614.0 1146.4L615.0 1141.6L616.0 1137.1L617.0 1132.8L618.0 1128.6L619.0 1124.2L620.0 1119.9L621.0 1115.5L622.0 1111.1L623.0 1106.6L624.0 1102.2L625.0 1098.3L626.0 1094.9L627.0 1092.1L628.0 1090.0L629.0 1088.4L630.0 1087.3L631.0 1087.9L632.0 1088.9L633.0 1090.5L634.0 1093.0L635.0 1096.6L636.0 1101.2L637.0 1106.7L638.0 1112.6L638.9 1118.9L639.9 1125.5L640.9 1132.2L641.9 1138.9L642.9 1145.8L643.9 1153.0L644.9 1160.6L645.9 1168.1L646.9 1175.1L647.9 1181.2L648.9 1186.2L649.9 1190.7L650.9 1194.7L651.9 1197.9L652.9 1200.5L653.9 1202.6L654.9 1204.5L655.9 1206.3L656.8 1208.0L657.8 1209.9L658.8 1211.6L659.8 1213.4L660.8 1215.1L661.8 1216.7L662.8 1218.4L663.8 1220.1L664.8 1221.7L665.8 1223.3L666.8 1225.1L667.8 1227.2L668.8 1229.6L669.8 1232.6L670.8 1235.6L671.8 1238.6L672.8 1241.7L673.7 1245.0L674.7 1248.6L675.7 1252.3L676.7 1255.6L677.7 1258.4L678.7 1260.8L679.7 1262.9L680.7 1264.8L681.7 1266.5L682.7 1268.3L683.7 1270.0L684.7 1271.8L685.7 1273.5L686.7 1275.2L687.7 1276.9L688.7 1278.7L689.7 1280.5L690.7 1282.5L691.6 1284.5L692.6 1286.5L693.6 1288.5L694.6 1290.5L695.6 1292.5L696.6 1294.4L697.6 1296.2L698.6 1297.7L699.6 1299.0L700.6 1298.6L701.6 1297.5L702.6 1295.4L703.6 1292.2L704.6 1288.1L705.5 1283.7L706.5 1279.2L707.5 1274.6L708.5 1270.1L709.5 1265.6L710.5 1261.2L711.5 1256.8L712.5 1252.4L713.5 1247.7L714.5 1242.2L715.5 1236.2L716.5 1230.4L717.4 1224.9L718.4 1219.5L719.4 1213.9L720.4 1208.3L721.4 1202.9L722.4 1196.7L723.4 1190.2L724.4 1183.6L725.4 1177.0L726.4 1170.4L727.4 1163.8L728.3 1157.3L729.3 1151.1L730.3 1145.1L731.3 1139.6L732.3 1134.8L733.3 1130.2L734.3 1125.6L735.3 1120.9L736.3 1116.2L737.3 1111.6L738.3 1106.7L739.3 1101.9L740.2 1097.7L741.2 1093.9L742.2 1090.8L743.2 1088.4L744.2 1086.7L745.2 1085.5L746.2 1086.1L747.2 1087.0L748.2 1088.7L749.2 1091.3L750.2 1095.2L751.2 1100.2L752.2 1106.3L753.2 1113.1L754.2 1120.3L755.2 1127.9L756.2 1135.4L757.2 1143.5L758.3 1153.1L759.3 1163.3L760.3 1172.7L761.3 1180.5L762.3 1186.5L763.3 1191.5L764.3 1195.7L765.3 1198.9L766.3 1201.2L767.3 1203.1L768.3 1204.8L769.3 1206.5L770.3 1208.3L771.3 1210.0L772.3 1211.7L773.3 1213.3L774.3 1215.0L775.3 1216.6L776.3 1218.2L777.3 1219.8L778.3 1221.4L779.3 1222.9L780.3 1224.6L781.4 1226.5L782.4 1228.8L783.4 1231.6L784.4 1234.4L785.4 1237.2L786.4 1240.1L787.4 1243.1L788.4 1246.1L789.4 1249.3L790.4 1252.3L791.4 1255.1L792.4 1257.6L793.4 1259.9L794.4 1261.9L795.4 1263.6L796.4 1265.3L797.4 1266.9L798.4 1268.5L799.4 1270.1L800.4 1271.7L801.4 1273.2L802.4 1274.8L803.4 1276.3L804.4 1277.9L805.5 1279.5L806.5 1281.2L807.5 1282.9L808.5 1284.7L809.5 1286.5L810.5 1288.3L811.5 1290.1L812.5 1291.9L813.5 1293.7L814.5 1295.4L815.5 1297.0L816.5 1298.3L817.5 1299.5L818.5 1299.1L819.5 1298.0L820.5 1295.7L821.5 1292.1L822.5 1287.7L823.5 1282.9L824.5 1278.0L825.6 1272.9L826.6 1268.0L827.6 1263.1L828.6 1258.1L829.6 1252.8L830.6 1247.4L831.6 1241.3L832.6 1235.2L833.6 1229.2L834.6 1223.1L835.6 1216.9L836.6 1210.7L837.6 1204.6L838.6 1198.6L839.6 1192.5L840.7 1186.4L841.7 1180.4L842.7 1174.5L843.7 1168.8L844.7 1163.1L845.7 1157.5L846.7 1152.0L847.7 1146.6L848.7 1141.3L849.7 1136.3L850.7 1131.6L851.7 1126.7L852.7 1121.9L853.7 1117.3L854.8 1112.8L855.8 1108.4L856.8 1104.5L857.8 1101.0L858.8 1098.2L859.8 1096.1L860.8 1094.6L861.8 1093.6L862.8 1094.1L863.8 1094.9L864.8 1096.4L865.8 1098.9L866.8 1102.9L867.8 1108.6L868.8 1115.7L869.8 1124.0L870.8 1133.1L871.8 1141.4L872.8 1148.9L873.8 1156.1L874.8 1163.3L875.8 1170.8L876.8 1177.7L877.8 1183.9L878.8 1189.2L879.7 1193.7L880.7 1197.8L881.7 1200.9L882.7 1203.4L883.7 1205.5L884.7 1207.4L885.7 1209.1L886.7 1210.8L887.7 1212.5L888.7 1214.1L889.7 1215.7L890.7 1217.3L891.7 1218.8L892.7 1220.3L893.7 1221.9L894.7 1223.4L895.7 1224.8L896.7 1226.4L897.7 1228.1L898.7 1230.2L899.7 1232.7L900.7 1235.5L901.7 1238.2L902.7 1241.1L903.7 1244.0L904.7 1247.1L905.7 1250.2L906.7 1253.1L907.7 1255.9L908.7 1258.3L909.7 1260.5L910.7 1262.5L911.7 1264.3L912.7 1266.1L913.7 1267.8L914.7 1269.5L915.6 1271.2L916.6 1272.9L917.6 1274.6L918.6 1276.3L919.6 1277.9L920.6 1279.7L921.6 1281.4L922.6 1283.2L923.6 1285.1L924.6 1287.0L925.6 1288.9L926.6 1290.8L927.6 1292.7L928.6 1294.5L929.6 1296.3L930.6 1297.8L931.6 1299.1L932.6 1300.3L933.6 1299.9L934.6 1298.9L935.6 1297.0L936.6 1294.1L937.6 1290.5L938.6 1286.4L939.5 1282.1L940.5 1277.6L941.5 1273.2L942.5 1268.8L943.5 1264.3L944.5 1259.5L945.5 1254.5L946.5 1249.6L947.5 1244.4L948.5 1238.1L949.5 1231.8L950.5 1225.2L951.4 1218.5L952.4 1211.9L953.4 1205.3L954.4 1198.6L955.4 1192.0L956.4 1185.6L957.4 1179.6L958.4 1173.8L959.4 1168.0L960.4 1162.3L961.4 1156.6L962.4 1151.0L963.4 1145.3L964.3 1140.0L965.3 1135.1L966.3 1130.4L967.3 1125.7L968.3 1121.6L969.3 1117.6L970.3 1113.8L971.3 1110.4L972.3 1107.5L973.3 1105.2L974.3 1103.6L975.3 1102.4L976.2 1101.6L977.2 1102.0L978.2 1102.7L979.2 1103.8L980.2 1105.8L981.2 1109.1L982.2 1113.6L983.2 1119.5L984.2 1126.6L985.2 1134.3L986.2 1142.3L987.2 1149.9L988.2 1157.3L989.2 1164.5L990.2 1171.8L991.2 1178.8L992.1 1185.3L993.1 1191.0L994.1 1196.0L995.1 1200.0L996.1 1203.5L997.1 1206.3L998.1 1208.6L999.1 1210.6L1000.1 1212.4L1001.1 1214.0L1002.1 1215.6L1003.1 1217.2L1004.1 1218.7L1005.1 1220.1L1006.1 1221.5L1007.1 1223.0L1008.0 1224.4L1009.0 1225.8L1010.0 1227.1L1011.0 1228.6L1012.0 1230.2L1013.0 1232.2L1014.0 1234.6L1015.0 1237.2L1016.0 1239.9L1017.0 1242.7L1018.0 1245.6L1019.0 1248.5L1020.0 1251.3L1021.0 1254.0L1022.0 1256.5L1023.0 1258.7L1023.9 1260.8L1024.9 1262.8L1025.9 1264.6L1026.9 1266.4L1027.9 1268.2L1028.9 1269.9L1029.9 1271.7L1030.9 1273.4L1031.9 1275.1L1032.9 1276.8L1033.9 1278.6L1034.9 1280.3L1035.9 1282.1L1036.9 1284.0L1037.9 1285.8L1038.9 1287.7L1039.8 1289.6L1040.8 1291.5L1041.8 1293.4L1042.8 1295.2L1043.8 1296.9L1044.8 1298.3L1045.8 1299.6L1046.8 1300.7L1047.8 1300.3L1048.8 1299.4L1049.8 1297.8L1050.8 1295.3L1051.8 1292.2L1052.8 1288.7L1053.8 1284.8L1054.8 1280.6L1055.8 1276.6L1056.8 1272.4L1057.7 1268.1L1058.7 1263.5L1059.7 1258.8L1060.7 1254.1L1061.7 1249.4L1062.7 1244.4L1063.7 1237.8L1064.7 1231.0L1065.7 1223.9L1066.7 1216.9L1067.7 1209.6L1068.7 1202.2L1069.7 1195.5L1070.7 1189.4L1071.7 1183.7L1072.7 1178.0L1073.7 1172.5L1074.7 1166.9L1075.7 1161.3L1076.7 1155.7L1077.7 1150.2L1078.7 1144.8L1079.6 1139.4L1080.6 1134.3L1081.6 1129.8L1082.6 1125.8L1083.6 1122.2L1084.6 1119.0L1085.6 1116.4L1086.6 1114.3L1087.6 1112.9L1088.6 1112.0L1089.6 1111.4L1090.6 1111.7L1091.6 1112.1L1092.6 1112.9L1093.6 1114.1L1094.6 1116.3L1095.6 1119.1L1096.6 1122.8L1097.6 1127.0L1098.6 1131.8L1099.6 1137.2L1100.6 1143.7L1101.6 1150.9L1102.6 1157.9L1103.6 1164.7L1104.6 1171.2L1105.6 1177.6L1106.6 1183.8L1107.6 1189.6L1108.6 1194.9L1109.6 1199.6L1110.6 1203.6L1111.6 1207.1L1112.6 1210.1L1113.6 1212.5L1114.6 1214.5L1115.6 1216.2L1116.6 1217.8L1117.6 1219.2L1118.6 1220.6L1119.6 1221.9L1120.6 1223.2L1121.6 1224.4L1122.6 1225.6L1123.6 1226.8L1124.6 1228.0L1125.6 1229.2L1126.6 1230.3L1127.6 1231.6L1128.6 1233.0L1129.6 1234.8L1130.6 1236.9L1131.6 1239.1L1132.6 1241.4L1133.6 1244.0L1134.6 1246.6L1135.6 1249.5L1136.6 1252.2L1137.6 1254.7L1138.6 1257.0L1139.6 1259.2L1140.6 1261.2L1141.6 1263.1L1142.6 1265.0L1143.6 1266.8L1144.6 1268.6L1145.6 1270.4L1146.6 1272.2L1147.6 1273.9L1148.6 1275.6L1149.6 1277.4L1150.6 1279.1L1151.6 1280.9L1152.6 1282.7L1153.6 1284.5L1154.6 1286.4L1155.6 1288.2L1156.6 1290.1L1157.6 1292.0L1158.6 1293.9L1159.6 1295.7L1160.6 1297.3L1161.6 1298.6L1162.6 1299.8L1163.6 1300.8L1164.6 1300.4L1165.6 1299.5L1166.6 1298.0L1167.6 1295.6L1168.6 1292.5L1169.6 1288.7L1170.7 1284.4L1171.7 1279.9L1172.7 1275.4L1173.7 1270.6L1174.7 1265.4L1175.7 1260.0L1176.7 1254.5L1177.7 1249.0L1178.7 1243.3L1179.7 1237.3L1180.7 1231.2L1181.7 1225.0L1182.7 1218.6L1183.7 1212.0L1184.8 1205.4L1185.8 1198.7L1186.8 1192.3L1187.8 1186.2L1188.8 1180.4L1189.8 1174.5L1190.8 1168.6L1191.8 1162.5L1192.8 1156.5L1193.8 1150.6L1194.8 1144.8L1195.8 1139.1L1196.8 1134.0L1197.8 1129.9L1198.9 1126.4L1199.9 1123.4L1200.9 1120.9L1201.9 1119.0L1202.9 1117.9L1203.9 1117.2L1204.9 1116.8L1205.9 1117.0L1206.9 1117.4L1207.9 1118.0L1208.9 1119.1L1209.9 1121.2L1210.9 1124.1L1211.9 1128.1L1212.9 1132.7L1213.9 1138.4L1214.9 1144.6L1215.9 1151.3L1216.9 1157.9L1217.9 1164.3L1218.9 1170.5L1219.9 1176.4L1220.9 1182.0L1221.9 1187.5L1222.9 1192.6L1223.9 1197.5L1224.9 1202.3L1225.9 1206.9L1226.9 1210.7L1227.9 1213.8L1228.9 1216.4L1229.9 1218.4L1230.9 1220.0L1231.9 1221.5L1232.9 1222.9L1233.9 1224.2L1234.9 1225.4L1235.9 1226.5L1236.9 1227.6L1237.9 1228.7L1238.9 1229.8L1239.9 1230.9L1240.9 1231.9L1242.0 1233.0L1243.0 1234.3L1244.0 1235.7L1245.0 1237.4L1246.0 1239.3L1247.0 1241.4L1248.0 1243.7L1249.0 1246.3L1250.0 1249.1L1251.0 1251.8L1252.0 1254.4L1253.0 1256.8L1254.0 1259.0L1255.0 1261.1L1256.0 1263.2L1257.0 1265.2L1258.0 1267.1L1259.0 1269.1L1260.0 1270.9L1261.0 1272.8L1262.0 1274.6L1263.0 1276.5L1264.0 1278.3L1265.0 1280.2L1266.0 1282.1L1267.0 1283.9L1268.0 1285.8L1269.0 1287.7L1270.0 1289.6L1271.0 1291.6L1272.0 1293.6L1273.0 1295.6L1274.0 1297.5L1275.0 1299.0L1276.0 1300.4L1277.0 1301.5L1278.0 1302.5L1279.0 1302.2L1280.0 1301.4L1281.0 1300.3L1282.0 1298.7L1283.0 1296.4L1284.0 1293.4L1285.0 1289.7L1286.0 1285.7L1287.0 1281.6L1288.0 1277.4L1289.0 1272.7L1290.0 1267.8L1291.0 1262.7L1292.0 1257.4L1293.0 1252.0L1294.0 1246.6L1295.0 1241.0L1296.0 1235.4L1297.0 1229.7L1298.0 1223.9L1299.0 1217.9L1300.0 1211.6L1301.0 1205.4L1302.0 1199.1L1303.0 1192.3L1304.0 1185.9L1305.0 1179.7L1306.0 1173.5L1307.0 1167.1L1308.0 1160.6L1309.0 1154.0L1310.0 1147.7L1311.0 1141.5L1312.0 1135.6L1313.0 1130.6L1314.0 1126.9L1315.0 1123.9L1316.0 1121.5L1317.0 1119.5L1318.0 1118.1L1319.0 1117.4L1320.0 1117.0L1321.0 1116.8L1322.0 1116.9L1323.0 1117.2L1324.0 1117.7L1325.0 1118.8L1326.0 1121.4L1327.0 1125.5L1328.0 1131.7L1329.0 1140.1L1330.0 1147.3L1330.9 1153.8L1331.9 1160.3L1332.9 1166.7L1333.9 1172.7L1334.9 1178.5L1335.9 1183.9L1336.9 1189.1L1337.9 1193.9L1338.9 1198.5L1339.9 1203.7L1340.9 1208.7L1341.9 1212.4L1342.9 1215.4L1343.9 1217.8L1344.9 1219.7L1345.9 1221.2L1346.9 1222.6L1347.8 1223.8L1348.8 1225.0L1349.8 1226.1L1350.8 1227.1L1351.8 1228.0L1352.8 1229.0L1353.8 1230.1L1354.8 1231.0L1355.8 1232.0L1356.8 1233.1L1357.8 1234.3L1358.8 1235.7L1359.8 1237.3L1360.8 1239.2L1361.8 1241.5L1362.8 1244.0L1363.8 1246.8L1364.8 1249.5L1365.8 1252.0L1366.7 1254.3L1367.7 1256.5L1368.7 1258.7L1369.7 1260.8L1370.7 1262.9L1371.7 1264.9L1372.7 1266.9L1373.7 1268.8L1374.7 1270.7L1375.7 1272.6L1376.7 1274.5L1377.7 1276.4L1378.7 1278.3L1379.7 1280.3L1380.7 1282.2L1381.7 1284.1L1382.7 1286.0L1383.6 1287.9L1384.6 1289.8L1385.6 1291.8L1386.6 1293.9L1387.6 1295.9L1388.6 1297.8L1389.6 1299.3L1390.6 1300.6L1391.6 1301.7L1392.6 1302.7L1393.6 1302.4L1394.6 1301.5L1395.6 1300.4L1396.6 1298.7L1397.6 1296.3L1398.7 1293.1L1399.7 1289.2L1400.7 1285.1L1401.7 1280.9L1402.7 1276.5L1403.7 1271.7L1404.7 1266.6L1405.7 1261.3L1406.7 1255.8L1407.7 1250.3L1408.8 1244.6L1409.8 1238.8L1410.8 1232.9L1411.8 1226.8L1412.8 1220.6L1413.8 1214.0L1414.8 1207.4L1415.8 1201.0L1416.8 1194.4L1417.8 1188.1L1418.8 1182.1L1419.9 1176.2L1420.9 1170.1L1421.9 1163.9L1422.9 1157.6L1423.9 1151.4L1424.9 1145.4L1425.9 1139.2L1426.9 1132.9L1427.9 1128.3L1428.9 1124.7L1430.0 1122.0L1431.0 1119.8L1432.0 1118.2L1433.0 1117.5L1434.0 1117.0L1435.0 1116.8L1436.0 1116.9L1437.0 1117.2L1438.0 1117.7L1439.0 1118.7L1440.0 1121.1L1441.0 1124.4L1442.0 1129.1L1443.0 1135.0L1444.1 1142.1L1445.1 1149.5L1446.1 1156.9L1447.1 1164.0L1448.1 1170.7L1449.1 1177.1L1450.1 1183.1L1451.1 1188.7L1452.1 1193.9L1453.1 1198.9L1454.1 1203.9L1455.1 1208.3L1456.1 1211.9L1457.1 1214.7L1458.1 1217.0L1459.1 1218.8L1460.1 1220.3L1461.1 1221.6L1462.2 1222.8L1463.2 1224.0L1464.2 1225.0L1465.2 1226.0L1466.2 1227.0L1467.2 1228.0L1468.2 1229.0L1469.2 1229.9L1470.2 1230.9L1471.2 1232.0L1472.2 1233.2L1473.2 1234.6L1474.2 1236.3L1475.2 1238.2L1476.2 1240.4L1477.2 1243.0L1478.2 1246.0L1479.2 1248.7L1480.3 1251.2L1481.3 1253.5L1482.3 1255.7L1483.3 1257.9L1484.3 1260.1L1485.3 1262.2L1486.3 1264.2L1487.3 1266.2L1488.3 1268.2L1489.3 1270.1L1490.3 1272.0L1491.3 1273.9L1492.3 1275.9L1493.3 1277.8L1494.3 1279.8L1495.3 1281.7L1496.3 1283.7L1497.3 1285.6L1498.4 1287.6L1499.4 1289.6L1500.4 1291.7L1501.4 1293.7L1502.4 1295.7L1503.4 1297.3L1504.4 1298.6L1505.4 1299.7L1506.4 1300.7L1507.4 1300.4L1508.4 1299.6L1509.4 1298.7L1510.4 1297.2L1511.4 1295.1L1512.4 1292.4L1513.4 1289.1L1514.4 1285.3L1515.4 1281.6L1516.4 1277.8L1517.4 1273.6L1518.3 1269.2L1519.3 1264.6L1520.3 1259.8L1521.3 1254.9L1522.3 1249.9L1523.3 1244.6L1524.3 1238.9L1525.3 1232.8L1526.3 1226.6L1527.3 1220.2L1528.3 1213.5L1529.3 1206.6L1530.3 1200.1L1531.3 1194.1L1532.3 1188.5L1533.3 1183.1L1534.3 1177.9L1535.3 1172.5L1536.3 1167.0L1537.3 1161.3L1538.3 1155.7L1539.2 1150.2L1540.2 1144.9L1541.2 1139.4L1542.2 1133.3L1543.2 1129.0L1544.2 1125.8L1545.2 1123.3L1546.2 1121.2L1547.2 1119.9L1548.2 1119.2L1549.2 1118.8L1550.2 1118.6L1551.2 1118.7L1552.2 1119.0L1553.2 1119.4L1554.2 1120.3L1555.2 1122.2L1556.2 1124.8L1557.2 1128.3L1558.2 1132.6L1559.2 1138.0L1560.2 1144.2L1561.2 1151.5L1562.2 1158.8L1563.2 1165.8L1564.2 1172.4L1565.2 1178.6L1566.2 1184.4L1567.2 1189.9L1568.2 1194.9L1569.2 1199.8L1570.2 1205.2L1571.2 1209.7L1572.2 1213.2L1573.2 1215.9L1574.2 1218.0L1575.2 1219.6L1576.2 1221.0L1577.2 1222.3L1578.2 1223.5L1579.2 1224.6L1580.2 1225.6L1581.2 1226.5L1582.2 1227.5L1583.2 1228.5L1584.2 1229.4L1585.2 1230.4L1586.2 1231.4L1587.2 1232.5L1588.2 1233.7L1589.2 1235.2L1590.2 1236.9L1591.2 1239.0L1592.2 1241.3L1593.2 1244.1L1594.2 1246.9L1595.2 1249.4L1596.2 1251.7L1597.2 1253.8L1598.2 1255.9L1599.2 1257.9L1600.2 1259.9L1601.2 1261.9L1602.2 1263.8L1603.2 1265.7L1604.2 1267.5L1605.2 1269.3L1606.2 1271.1L1607.2 1272.9L1608.2 1274.8L1609.2 1276.6L1610.2 1278.4L1611.2 1280.3L1612.2 1282.1L1613.2 1283.9L1614.2 1285.7L1615.2 1287.6L1616.2 1289.5L1617.2 1291.5L1618.2 1293.3L1619.2 1295.1L1620.2 1296.6L1621.2 1297.8L1622.2 1298.9L1623.2 1299.8L1624.2 1299.5L1625.2 1298.6L1626.2 1297.5L1627.2 1295.7L1628.2 1293.2L1629.2 1289.9L1630.2 1286.0L1631.2 1281.9L1632.2 1277.7L1633.2 1273.2L1634.2 1268.4L1635.2 1263.2L1636.2 1257.9L1637.2 1252.5L1638.2 1246.9L1639.2 1241.0L1640.2 1234.8L1641.2 1228.5L1642.2 1221.9L1643.2 1215.1L1644.3 1208.0L1645.3 1201.2L1646.3 1194.8L1647.3 1188.9L1648.3 1183.2L1649.3 1177.7L1650.3 1172.1L1651.3 1166.3L1652.3 1160.4L1653.3 1154.5L1654.3 1148.8L1655.3 1143.2L1656.3 1137.0L1657.3 1131.2L1658.3 1127.1L1659.3 1124.1L1660.3 1121.8L1661.3 1120.0L1662.3 1119.3L1663.3 1118.8L1664.3 1118.6L1665.3 1118.7L1666.3 1119.0L1667.3 1119.4L1668.3 1120.2L1669.3 1122.1L1670.3 1124.8L1671.3 1128.4L1672.3 1132.9L1673.3 1138.5L1674.3 1144.6L1675.3 1151.2L1676.3 1157.8L1677.2 1164.2L1678.2 1170.3L1679.2 1176.1L1680.2 1181.6L1681.2 1186.9L1682.2 1191.8L1683.2 1196.4L1684.2 1201.3L1685.2 1207.1L1686.2 1211.4L1687.2 1214.8L1688.2 1217.4L1689.2 1219.4L1690.2 1221.0L1691.2 1222.4L1692.2 1223.6L1693.2 1224.8L1694.2 1225.9L1695.2 1226.9L1696.2 1227.8L1697.2 1228.8L1698.2 1229.8L1699.2 1230.8L1700.2 1231.7L1701.2 1232.7L1702.1 1233.9L1703.1 1235.2L1704.1 1236.7L1705.1 1238.5L1706.1 1240.7L1707.1 1243.2L1708.1 1245.9L1709.1 1248.6L1710.1 1251.0L1711.1 1253.3L1712.1 1255.4L1713.1 1257.5L1714.1 1259.6L1715.1 1261.6L1716.1 1263.5L1717.1 1265.5L1718.1 1267.3L1719.1 1269.2L1720.1 1271.0L1721.1 1272.8L1722.1 1274.6L1723.1 1276.5L1724.1 1278.3L1725.1 1280.1L1726.0 1282.0L1727.0 1283.8L1728.0 1285.7L1729.0 1287.5L1730.0 1289.3L1731.0 1291.3L1732.0 1293.3L1733.0 1295.2L1734.0 1296.9L1735.0 1298.4L1736.0 1299.6L1737.0 1300.7L1738.0 1301.6L1739.0 1301.3L1740.0 1300.5L1741.0 1299.4L1742.0 1297.8L1743.0 1295.5L1744.0 1292.5L1745.0 1288.9L1746.0 1284.8L1747.0 1280.9L1748.0 1276.6L1749.0 1272.0L1750.0 1267.1L1751.0 1262.0L1752.0 1256.8L1753.0 1251.4L1754.0 1245.9L1755.0 1239.5L1756.0 1232.5L1757.0 1225.4L1758.0 1218.0L1759.0 1210.1L1760.0 1202.4L1761.0 1195.6L1762.0 1189.5L1763.0 1183.8L1764.0 1178.1L1765.0 1172.5L1766.0 1166.6L1767.0 1160.7L1768.0 1154.7L1769.0 1148.9L1770.0 1143.2L1771.0 1137.8L1772.0 1133.0L1773.0 1129.2L1774.0 1126.0L1775.0 1123.4L1776.0 1121.2L1777.0 1119.3L1778.0 1118.1L1779.0 1117.4L1780.0 1117.0L1781.0 1116.8L1782.0 1116.9L1783.0 1117.2L1784.0 1117.7L1785.0 1118.8L1786.0 1121.4L1787.0 1125.5L1788.0 1131.6L1789.0 1140.0L1790.0 1147.0L1791.0 1153.2L1792.0 1159.4L1793.0 1165.5L1794.0 1171.3L1795.0 1176.9L1795.9 1182.2L1796.9 1187.3L1797.9 1192.1L1798.9 1196.4L1799.9 1201.4L1800.9 1207.4L1801.9 1211.8L1802.9 1215.1L1803.9 1217.7L1804.9 1219.6L1805.9 1221.2L1806.9 1222.6L1807.9 1223.9L1808.9 1225.1L1809.9 1226.1L1810.9 1227.2L1811.9 1228.2L1812.9 1229.2L1813.9 1230.2L1814.9 1231.2L1815.9 1232.2L1816.9 1233.4L1817.9 1234.7L1818.9 1236.2L1819.9 1238.1L1820.9 1240.2L1821.9 1242.8L1822.9 1245.6L1823.9 1248.3L1824.8 1250.8L1825.8 1253.1L1826.8 1255.3L1827.8 1257.5L1828.8 1259.6L1829.8 1261.6L1830.8 1263.6L1831.8 1265.6L1832.8 1267.5L1833.8 1269.4L1834.8 1271.2L1835.8 1273.1L1836.8 1274.9L1837.8 1276.8L1838.8 1278.7L1839.8 1280.6L1840.8 1282.4L1841.8 1284.3L1842.8 1286.2L1843.8 1288.1L1844.8 1289.9L1845.8 1291.9L1846.8 1293.9L1847.8 1295.9L1848.8 1297.7L1849.8 1299.2L1850.8 1300.4L1851.8 1301.6L1852.8 1302.5L1853.8 1302.2L1854.8 1301.4L1855.8 1300.3L1856.8 1298.6L1857.8 1296.3L1858.8 1293.2L1859.8 1289.5L1860.8 1285.4L1861.8 1281.3L1862.8 1276.9L1863.8 1272.2L1864.8 1267.3L1865.8 1262.1L1866.8 1256.7L1867.8 1251.2L1868.8 1245.6L1869.8 1239.5L1870.8 1233.1L1871.8 1226.5L1872.8 1219.8L1873.8 1212.6L1874.8 1205.4L1875.8 1198.3L1876.8 1191.6L1877.8 1185.4L1878.8 1179.5L1879.8 1173.7L1880.8 1167.7L1881.8 1161.5L1882.8 1155.2L1883.8 1149.0L1884.8 1143.0L1885.8 1137.2L1886.8 1131.7L1887.8 1127.1L1888.8 1123.5L1889.8 1120.6L1890.8 1118.3L1891.8 1116.3L1892.8 1114.9L1893.8 1114.2L1894.8 1113.8L1895.8 1113.6L1896.8 1113.7L1897.8 1114.0L1898.8 1114.5L1899.8 1115.7L1900.8 1118.3L1901.8 1122.3L1902.8 1128.1L1903.8 1136.4L1904.8 1144.0L1905.8 1151.0L1906.8 1157.8L1907.9 1164.4L1908.9 1170.6L1909.9 1176.6L1910.9 1182.2L1911.9 1187.5L1912.9 1192.5L1913.9 1197.3L1914.9 1202.5L1915.9 1207.2L1916.9 1211.0L1917.9 1214.0L1918.9 1216.2L1919.9 1218.0L1920.9 1219.4L1921.9 1220.8L1922.9 1222.0L1923.9 1223.2L1924.9 1224.2L1925.9 1225.3L1926.9 1226.3L1927.9 1227.3L1928.9 1228.4L1929.9 1229.4L1930.9 1230.5L1932.0 1231.7L1933.0 1233.1L1934.0 1234.8L1935.0 1236.8L1936.0 1239.2L1937.0 1241.9L1938.0 1245.2L1939.0 1247.9L1940.0 1250.3L1941.0 1252.6L1942.0 1254.7L1943.0 1256.9L1944.0 1259.0L1945.0 1261.0L1946.0 1263.0L1947.0 1265.0L1948.0 1266.9L1949.0 1268.8L1950.0 1270.7L1951.0 1272.6L1952.0 1274.5L1953.0 1276.4L1954.0 1278.3L1955.0 1280.2L1956.1 1282.1L1957.1 1284.1L1958.1 1286.0L1959.1 1287.9L1960.1 1289.9L1961.1 1291.9L1962.1 1293.9L1963.1 1295.8L1964.1 1297.3L1965.1 1298.6L1966.1 1299.7L1967.1 1300.7L1968.2 1300.2L1969.2 1299.0L1970.3 1297.4L1971.3 1295.3L1972.4 1293.1L1973.4 1289.8L1974.5 1285.6L1975.6 1280.9L1976.6 1276.1L1977.7 1270.7L1978.7 1264.9L1979.8 1259.1L1980.9 1253.3L1981.9 1247.5L1983.0 1241.6L1984.0 1235.8L1985.1 1230.0L1986.2 1224.3L1987.2 1218.8L1988.3 1213.8L1989.3 1209.2L1990.4 1204.8L1991.4 1200.7L1992.5 1197.0" fill="none" stroke="#1e6bcf" stroke-width="5.4" stroke-linejoin="round"/>
<g stroke="#000" fill="none" stroke-width="5.7">
<path d="M255.9 52.6V1480.5"/>
<path d="M227.9 1452.5H1995.3"/>
<path d="M227.9 55.5H255.9"/>
<path d="M241.9 1219.8H255.9"/>
<path d="M227.9 987.1H255.9"/>
<path d="M241.9 754.5H255.9"/>
<path d="M227.9 521.8H255.9"/>
<path d="M241.9 289.1H255.9"/>
<path d="M473.0 1452.5V1466.5"/>
<path d="M690.0 1452.5V1480.5"/>
<path d="M907.1 1452.5V1466.5"/>
<path d="M1124.2 1452.5V1480.5"/>
<path d="M1341.3 1452.5V1466.5"/>
<path d="M1558.4 1452.5V1480.5"/>
<path d="M1775.4 1452.5V1466.5"/>
<path d="M1992.5 1452.5V1480.5"/>
</g>
<g font-family='"Liberation Serif", "DejaVu Serif", serif' font-size="60" fill="#000" stroke="#fff" stroke-width="1.0">
<text transform="translate(103.7 74.1) scale(1 1.08)">0.75</text>
<text transform="translate(103.7 539.5) scale(1 1.08)">0.50</text>
<text transform="translate(103.7 1004.8) scale(1 1.08)">0.25</text>
<text transform="translate(103.7 1470.2) scale(1 1.08)">0.00</text>
<text transform="translate(273.9 1554.8) scale(1 1.08)" text-anchor="middle">0</text>
<text transform="translate(708.0 1554.8) scale(1 1.08)" text-anchor="middle">50</text>
<text transform="translate(1143.4 1554.8) scale(1 1.08)" text-anchor="middle">100</text>
<text transform="translate(1576.4 1554.8) scale(1 1.08)" text-anchor="middle">150</text>
<text transform="translate(2009.0 1554.8) scale(1 1.08)" text-anchor="middle">200</text>
</g>
<g font-family='"Liberation Serif", "DejaVu Serif", serif' font-size="74" fill="#000" stroke="#fff" stroke-width="1.2">
<text transform="translate(0 1653.8) scale(1 1.045)"><tspan x="1034.4" font-style="italic">t</tspan><tspan x="1055" font-style="italic">U </tspan><tspan x="1129.4">/ </tspan><tspan x="1167.1" font-style="italic">D</tspan></text>
<text transform="translate(90.8 828.3) rotate(-90) scale(0.933 1)"><tspan x="0" font-style="italic">U </tspan><tspan x="75">/ </tspan><tspan x="106.5" font-style="italic">U</tspan></text>
</g>
<path d="M1060 1584H1115.5" stroke="#202020" stroke-width="4.8" fill="none"/>
<path d="M25 672.6V726.2" stroke="#202020" stroke-width="4.0" fill="none"/>
<g fill="none" stroke="#000">
<circle cx="1212.2" cy="257.2" r="121" stroke-width="4.8"/>
<path d="M1212.5 136V378" stroke-width="3.5"/>
<path d="M1001 320V414.3H1094" stroke-width="3.4"/>
</g>
<path d="M1001 303.2L1011.6 324.6L1001 319.4L990.4 324.6Z" fill="#000"/>
<path d="M1112.3 414.3L1090.8 425.3L1096 414.3L1090.8 403.3Z" fill="#000"/>
<circle cx="1212.5" cy="197.4" r="10.1" fill="#146cbc"/>
<circle cx="1212.5" cy="317.4" r="10.1" fill="#f80606"/>
<path d="M1261 197.5H1415" stroke="#146cbc" stroke-width="4.2" fill="none"/>
<path d="M1241.3 197.5L1262.3 186.9V208.1Z" fill="#146cbc"/>
<path d="M1263.8 317.5H1415" stroke="#f80606" stroke-width="4.2" stroke-dasharray="12.2 7.6" fill="none"/>
<path d="M1241.3 317.5L1262.3 306.9V328.1Z" fill="#f80606"/>
<g font-family='"Liberation Serif", "DejaVu Serif", serif' font-size="66" fill="#000">
<g stroke="#fff" stroke-width="0.5">
<text transform="translate(1431.1 215.3) scale(1 1.05)">Upper side probe</text>
<text transform="translate(1428.2 337.4) scale(1 1.05)">Lower side probe</text>
</g>
<g stroke="#fff" stroke-width="0.9" font-style="italic">
<text transform="translate(992.6 289.8) scale(1.12 1)">z</text>
<text transform="translate(1122 431.2) scale(1.04 1)">y</text>
</g>
</g>
</svg>
</body>
</html>
